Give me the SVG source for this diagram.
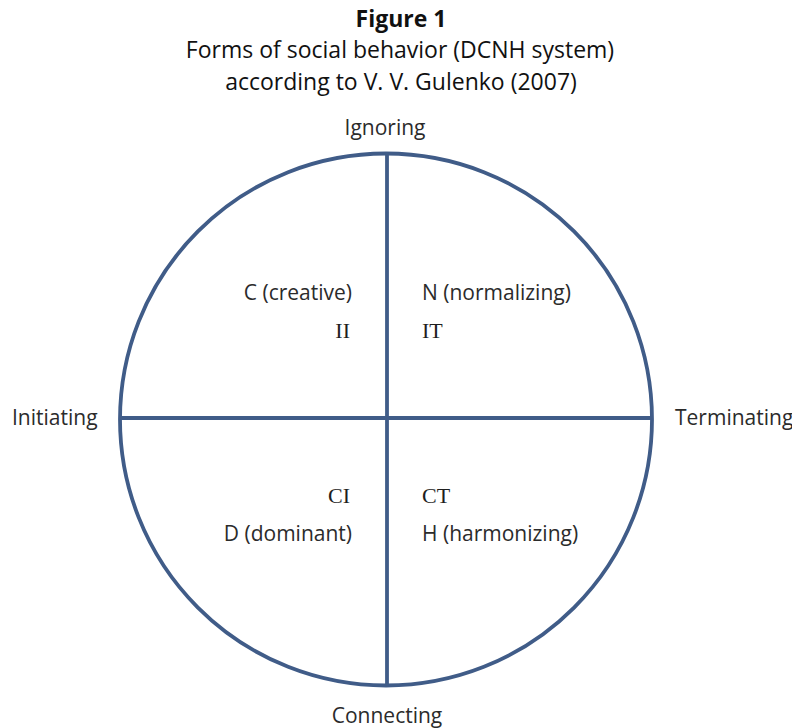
<svg xmlns="http://www.w3.org/2000/svg" width="792" height="728" viewBox="0 0 792 728">
<style>
.t{font-family:"Open Sans","Liberation Sans",sans-serif;fill:#111}
.l{font-family:"Open Sans","Liberation Sans",sans-serif;font-size:21px;fill:#2b2b2b}
.s{font-family:"Liberation Serif","DejaVu Serif",serif;font-size:22px;fill:#1e1e1e}
.ln{stroke:#405c88;stroke-width:3.8;fill:none}
</style>
<rect width="792" height="728" fill="#fff"/>
<g id="title">
<text class="t" x="401" y="27" font-size="23" font-weight="bold" text-anchor="middle">Figure 1</text>
<text class="t" x="400" y="58" font-size="23" text-anchor="middle">Forms of social behavior (DCNH system)</text>
<text class="t" x="401" y="90" font-size="23" text-anchor="middle">according to V. V. Gulenko (2007)</text>
</g>
<g id="connectors">
<circle class="ln" cx="386" cy="419.5" r="266"/>
<line class="ln" x1="387" y1="153" x2="387" y2="686"/>
<line class="ln" x1="120" y1="418" x2="652" y2="418"/>
</g>
<g id="ignoring"><text class="l" x="385" y="135" text-anchor="middle">Ignoring</text></g>
<g id="initiating"><text class="l" x="12" y="425">Initiating</text></g>
<g id="terminating"><text class="l" x="675" y="425">Terminating</text></g>
<g id="connecting"><text class="l" x="387" y="723" text-anchor="middle">Connecting</text></g>
<g id="creative">
<text class="l" x="352" y="300" text-anchor="end">C (creative)</text>
<text class="s" x="350" y="338" text-anchor="end">II</text>
</g>
<g id="normalizing">
<text class="l" x="422" y="300">N (normalizing)</text>
<text class="s" x="422" y="338">IT</text>
</g>
<g id="dominant">
<text class="s" x="350" y="503" text-anchor="end">CI</text>
<text class="l" x="352" y="541" text-anchor="end">D (dominant)</text>
</g>
<g id="harmonizing">
<text class="s" x="422" y="503">CT</text>
<text class="l" x="422" y="541">H (harmonizing)</text>
</g>
</svg>
